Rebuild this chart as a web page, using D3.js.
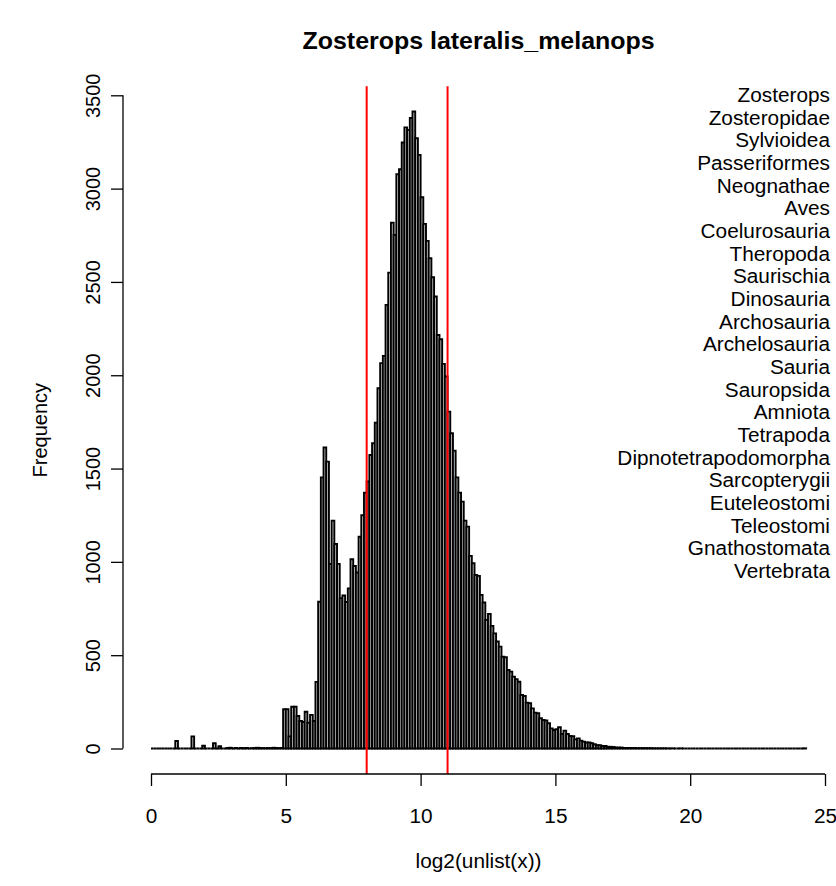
<!DOCTYPE html>
<html lang="en">
<head>
<meta charset="UTF-8">
<title>hist</title>
<script src="https://cdn.jsdelivr.net/npm/d3@7"></script>
<style>
    body { margin:0; background:#fff; }
    text { font-family: "Liberation Sans", Arial, Helvetica, sans-serif; fill:#000; }
</style>
</head>
<body>
<div id="chart"></div>
<script>
// histogram of log2 values, bins of 0.1 starting at 0, right-closed (k/10, (k+1)/10]
var binStart = 0, binWidth = 0.1;
var counts = [
    0,0,0,0,0,0,0,0,0,40,            // 0.0 - 1.0
    0,0,0,0,0,65,0,0,0,15,           // 1.0 - 2.0
    0,0,0,28,0,12,0,0,3,4,           // 2.0 - 3.0
    0,3,0,3,2,3,0,2,3,4,             // 3.0 - 4.0
    3,2,2,3,2,4,3,2,3,210,           // 4.0 - 5.0
    210,65,224,224,174,147,142,197,138,180,       // 5
    147,357,786,1453,1613,1537,989,1221,1096,989, // 6
    806,820,785,858,1014,978,943,1135,1250,1370,  // 7
    1431,1573,1636,1746,1930,2065,2104,2377,2550,2818, // 8
    2752,3077,3104,3247,3328,3315,3378,3413,3270,3181, // 9
    2954,2811,2720,2627,2525,2422,2216,2193,2061,1993, // 10
    1805,1689,1596,1453,1371,1323,1221,1189,1032,993,  // 11
    930,925,823,782,689,721,657,617,573,546,           // 12
    492,489,421,412,385,371,358,287,281,246,           // 13
    243,215,192,189,162,153,150,135,108,99,            // 14
    103,114,78,96,78,67,66,49,54,42,                   // 15
    37,32,32,28,23,18,18,13,13,9,                      // 16
    9,8,5,5,5,3,3,3,3,3,                               // 17
    2,2,2,2,2,2,1,1,1,1,                               // 18
    1,1,0,1,0,0,1,0,0,0,                               // 19
    0,0,0,0,0,0,0,0,0,0,                               // 20
    0,0,0,0,0,0,0,0,0,0,                               // 21
    0,0,0,0,0,0,0,0,0,0,                               // 22
    0,0,0,0,0,0,0,0,0,0,                               // 23
    0,0,1                                              // 24.0 - 24.3
];
var cutoffs = [8, 11];
var xTicks = [0, 5, 10, 15, 20, 25];
var yTicks = [0, 500, 1000, 1500, 2000, 2500, 3000, 3500];
var taxa = ["Zosterops","Zosteropidae","Sylvioidea","Passeriformes","Neognathae","Aves",
    "Coelurosauria","Theropoda","Saurischia","Dinosauria","Archosauria","Archelosauria",
    "Sauria","Sauropsida","Amniota","Tetrapoda","Dipnotetrapodomorpha","Sarcopterygii",
    "Euteleostomi","Teleostomi","Gnathostomata","Vertebrata"];
var title = "Zosterops lateralis_melanops";
var xLabel = "log2(unlist(x))", yLabel = "Frequency";

var W = 836, H = 886;
var plot = {left:124.8, right:832.3, top:86.3, bottom:774};
var fs = 20, sx = 1.04;   // text is a bit wider than plain Liberation

var svg = d3.select("#chart").append("svg")
    .attr("width", W).attr("height", H);

var x = d3.scaleLinear().domain([0, 25]).range([151, 825]);
var y = d3.scaleLinear().domain([0, 3500]).range([748.5, 95.3]);

var bins = counts.map(function(c, i){
    return {x0: binStart + i*binWidth, x1: binStart + (i+1)*binWidth, n: c};
});

// bars as closed paths so empty bins still show as a flat line
svg.append("g").selectAll("path")
    .data(bins)
    .enter()
    .append("path")
    .attr("d", d => "M" + x(d.x0) + "," + y(0) + "V" + y(d.n) + "H" + x(d.x1) + "V" + y(0) + "Z")
    .attr("fill", "#d3d3d3")
    .attr("stroke", "#000")
    .attr("stroke-width", 1.9);

// cutoff lines
svg.append("g").selectAll("line")
    .data(cutoffs)
    .enter()
    .append("line")
    .attr("x1", d => x(d)).attr("x2", d => x(d))
    .attr("y1", plot.top).attr("y2", plot.bottom)
    .attr("stroke", "#ff0000")
    .attr("stroke-width", 2);

// x axis
var xAxis = d3.axisBottom(x).tickValues(xTicks).tickSize(12).tickPadding(0)
    .tickFormat(d3.format("d"));
var gx = svg.append("g").attr("transform", "translate(0," + plot.bottom + ")").call(xAxis);
gx.select(".domain").attr("d", "M" + x(0) + ",0H" + x(25));
gx.selectAll(".tick text")
    .attr("y", null).attr("dy", null)
    .attr("transform", "translate(0,49) scale(" + sx + ",1)");

// y axis
var yAxis = d3.axisLeft(y).tickValues(yTicks).tickSize(12).tickPadding(0)
    .tickFormat(d3.format("d"));
var gy = svg.append("g").attr("transform", "translate(" + 123 + ",0)").call(yAxis);
gy.select(".domain").attr("d", "M0," + y(0) + "V" + y(3500));
gy.selectAll(".tick text")
    .attr("x", null).attr("dy", null)
    .attr("transform", "translate(-23,0) rotate(-90)")
    .attr("text-anchor", "middle");

svg.selectAll(".domain, .tick line").attr("stroke", "#000").attr("stroke-width", 1.3);
svg.selectAll(".tick text")
    .attr("font-family", "Liberation Sans, Arial, sans-serif")
    .attr("font-size", fs).attr("fill", "#000");

// titles
svg.append("text")
    .attr("transform", "translate(" + (plot.left + plot.right)/2 + ",49) scale(" + sx + ",1)")
    .attr("text-anchor", "middle")
    .attr("font-weight", "bold").attr("font-size", 24)
    .text(title);
svg.append("text")
    .attr("transform", "translate(" + (plot.left + plot.right)/2 + ",868) scale(" + sx + ",1)")
    .attr("text-anchor", "middle").attr("font-size", fs)
    .text(xLabel);
svg.append("text")
    .attr("transform", "translate(47," + (plot.top + plot.bottom)/2 + ") rotate(-90)")
    .attr("text-anchor", "middle").attr("font-size", fs)
    .text(yLabel);

// taxonomy list, top right
svg.append("g").selectAll("text")
    .data(taxa)
    .enter()
    .append("text")
    .attr("transform", (d, i) => "translate(830," + (102 + i*22.67) + ") scale(" + sx + ",1)")
    .attr("text-anchor", "end")
    .attr("font-size", fs)
    .text(d => d);
</script>
</body>
</html>
